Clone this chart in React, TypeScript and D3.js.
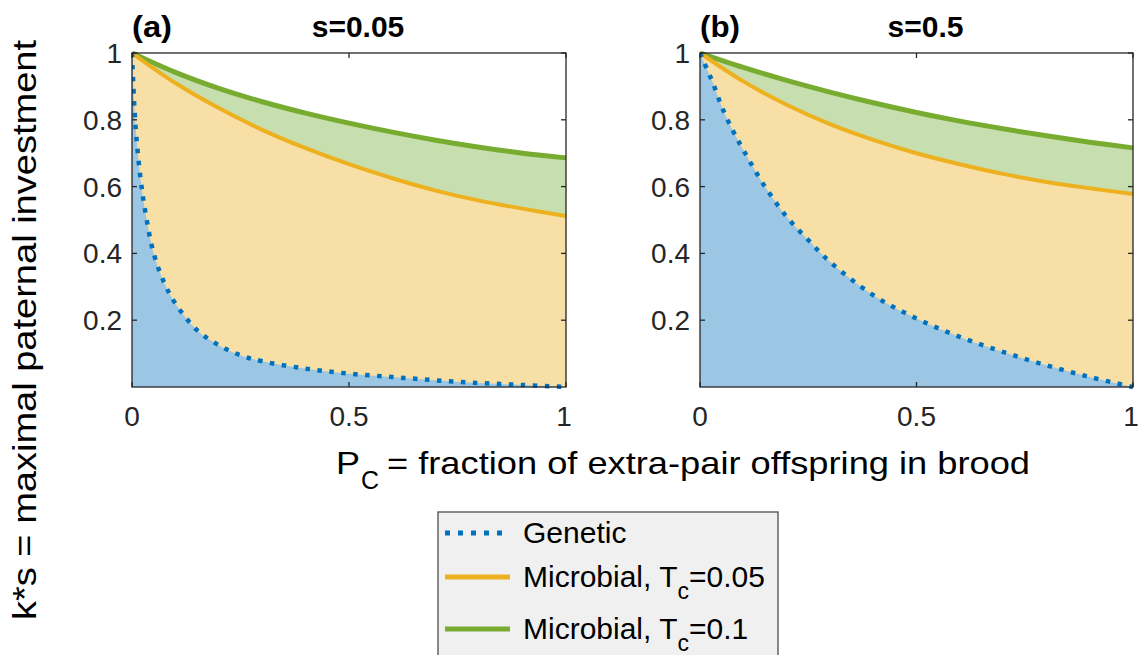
import React from 'react';
import * as d3 from 'd3';

// P_C grids the curves were read on
const pcFine = [0, 0.005, 0.01, 0.02, 0.03, 0.05, 0.075, 0.1, 0.15, 0.2, 0.25, 0.3, 0.4, 0.5, 0.6, 0.7, 0.8, 0.9, 1];
const pcCoarse = [0, 0.1, 0.2, 0.3, 0.4, 0.5, 0.6, 0.7, 0.8, 0.9, 1];

// panel (a), s=0.05
const geneticA = [1, 0.85, 0.75, 0.62, 0.53, 0.4, 0.31, 0.25, 0.17, 0.125, 0.095, 0.077, 0.055, 0.04, 0.03, 0.02, 0.012, 0.006, 0];
const microbial05A = [1, 0.91, 0.835, 0.77, 0.715, 0.667, 0.625, 0.588, 0.558, 0.534, 0.512];
const microbial10A = [1, 0.942, 0.894, 0.854, 0.82, 0.79, 0.763, 0.739, 0.718, 0.7, 0.686];

// panel (b), s=0.5
const geneticB = [1, 0.985, 0.97, 0.94, 0.91, 0.84, 0.77, 0.71, 0.6, 0.51, 0.44, 0.375, 0.275, 0.205, 0.15, 0.105, 0.065, 0.03, 0];
const microbial05B = [1, 0.915, 0.845, 0.787, 0.74, 0.7, 0.667, 0.638, 0.614, 0.595, 0.578];
const microbial10B = [1, 0.957, 0.918, 0.883, 0.851, 0.822, 0.796, 0.773, 0.752, 0.733, 0.716];

const xTicks = [0, 0.5, 1];
const xTickLabels = ['0', '0.5', '1'];
const yTicks = [0.2, 0.4, 0.6, 0.8, 1];
const yTickLabels = ['0.2', '0.4', '0.6', '0.8', '1'];

const FONT = '"Liberation Sans", Arial, Helvetica, sans-serif';
const AX = '#262626';
const BLUE = '#0072BD';
const ORANGE = '#EDB120';
const GREEN = '#77AC30';

const TOP = 53;
const BOTTOM = 387;

type Pt = [number, number];
const zip = (xs: number[], ys: number[]): Pt[] => xs.map((x, i) => [x, ys[i]]);

function Panel({ id, left, right, tag, title, genetic, m05, m10 }: {
  id: string; left: number; right: number; tag: string; title: string;
  genetic: number[]; m05: number[]; m10: number[];
}) {
  const x = d3.scaleLinear().domain([0, 1]).range([left, right]);
  const y = d3.scaleLinear().domain([0, 1]).range([BOTTOM, TOP]);

  const curve = d3.curveCatmullRom.alpha(0.5);
  const area = d3.area<Pt>().x(d => x(d[0])).y0(y(0)).y1(d => y(d[1])).curve(curve);
  const line = d3.line<Pt>().x(d => x(d[0])).y(d => y(d[1])).curve(curve);

  const gen = zip(pcFine, genetic);
  const o = zip(pcCoarse, m05);
  const g = zip(pcCoarse, m10);
  const tk = 5;

  return (
    <g>
      <defs>
        <clipPath id={`clip-${id}`}>
          <rect x={left} y={TOP - 4} width={right - left + 3} height={BOTTOM - TOP + 7} />
        </clipPath>
      </defs>
      <g clipPath={`url(#clip-${id})`}>
        <path d={area(g) || ''} fill="#C7DEAE" />
        <path d={area(o) || ''} fill="#F7DFA6" />
        <path d={area(gen) || ''} fill="#9BC6E4" />
        <path d={line(g) || ''} fill="none" stroke={GREEN} strokeWidth={5} />
        <path d={line(o) || ''} fill="none" stroke={ORANGE} strokeWidth={4} />
        <path d={line(gen) || ''} fill="none" stroke={BLUE} strokeWidth={4.5} strokeDasharray="4.5 7.5" />
      </g>
      {/* box */}
      <rect x={left} y={TOP} width={right - left} height={BOTTOM - TOP} fill="none" stroke={AX} strokeWidth={1.3} />
      {yTicks.map((t, i) => (
        <g key={t}>
          <line x1={left} x2={left + tk} y1={y(t)} y2={y(t)} stroke={AX} strokeWidth={1.3} />
          <line x1={right} x2={right - tk} y1={y(t)} y2={y(t)} stroke={AX} strokeWidth={1.3} />
          <text x={left - 10} y={y(t) + 10} textAnchor="end" fontSize={28} fill={AX} fontFamily={FONT}>{yTickLabels[i]}</text>
        </g>
      ))}
      {xTicks.map((t, i) => (
        <g key={t}>
          <line x1={x(t)} x2={x(t)} y1={BOTTOM} y2={BOTTOM - tk} stroke={AX} strokeWidth={1.3} />
          <line x1={x(t)} x2={x(t)} y1={TOP} y2={TOP + tk} stroke={AX} strokeWidth={1.3} />
          <text x={x(t) - (i === 2 ? 2 : 0)} y={426} textAnchor="middle" fontSize={28} fill={AX} fontFamily={FONT}>{xTickLabels[i]}</text>
        </g>
      ))}
      <text x={left} y={37} fontSize={30} fontWeight="bold" fill="#000" fontFamily={FONT}
        textLength={40} lengthAdjust="spacingAndGlyphs">{tag}</text>
      <text x={(left + right) / 2 + 9} y={37} textAnchor="middle" fontSize={30} fontWeight="bold" fill="#000" fontFamily={FONT}>{title}</text>
    </g>
  );
}

export default function App() {
  const legendRows = [
    { y: 533, color: BLUE, dash: '5 8', w: 5, label: 'Genetic' },
    { y: 577, color: ORANGE, dash: undefined, w: 5, label: 'Microbial, T', sub: 'c', rest: '=0.05' },
    { y: 629, color: GREEN, dash: undefined, w: 5, label: 'Microbial, T', sub: 'c', rest: '=0.1' },
  ];
  return (
    <svg width={1139} height={655} style={{ position: 'absolute', left: 0, top: 0, background: '#fff' }}>
      <Panel id="a" left={132} right={566} tag="(a)" title="s=0.05" genetic={geneticA} m05={microbial05A} m10={microbial10A} />
      <Panel id="b" left={700} right={1133} tag="(b)" title="s=0.5" genetic={geneticB} m05={microbial05B} m10={microbial10B} />

      <text transform="translate(36,330) rotate(-90)" textAnchor="middle" fontSize={34} fill="#000" fontFamily={FONT}
        textLength={580} lengthAdjust="spacingAndGlyphs">k*s = maximal paternal investment</text>

      <text x={336} y={474} fontSize={32} fill="#000" fontFamily={FONT} textLength={24} lengthAdjust="spacingAndGlyphs">P</text>
      <text x={361} y={489} fontSize={25} fill="#000" fontFamily={FONT}>C</text>
      <text x={387} y={474} fontSize={32} fill="#000" fontFamily={FONT} textLength={643} lengthAdjust="spacingAndGlyphs">
        = fraction of extra-pair offspring in brood
      </text>

      <rect x={438} y={512} width={340} height={160} fill="#F0F0F0" stroke="#4d4d4d" strokeWidth={1.3} />
      {legendRows.map(r => (
        <g key={r.y}>
          <line x1={445} x2={510} y1={r.y} y2={r.y} stroke={r.color} strokeWidth={r.w} strokeDasharray={r.dash} />
          <text x={523} y={r.y + 10} fontSize={30} fill="#000" fontFamily={FONT}>
            {r.label}
            {r.sub && <tspan dy={12} fontSize={23}>{r.sub}</tspan>}
            {r.rest && <tspan dy={-12}>{r.rest}</tspan>}
          </text>
        </g>
      ))}
    </svg>
  );
}
